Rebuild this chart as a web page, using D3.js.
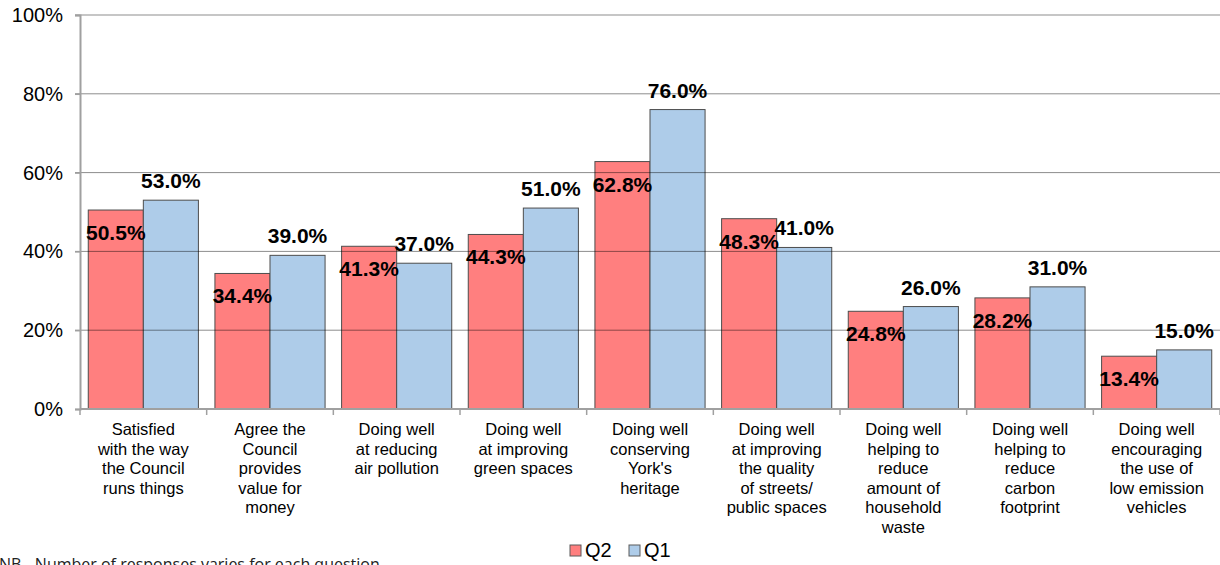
<!DOCTYPE html>
<html><head><meta charset="utf-8">
<script src="https://cdn.jsdelivr.net/npm/d3@7"></script>
<style>body{margin:0;background:#fff}svg{display:block}</style>
</head><body>
<svg id="c" width="1220" height="565"></svg>
<script>
const categories = [
  ["Satisfied","with the way","the Council","runs things"],
  ["Agree the","Council","provides","value for","money"],
  ["Doing well","at reducing","air pollution"],
  ["Doing well","at improving","green spaces"],
  ["Doing well","conserving","York's","heritage"],
  ["Doing well","at improving","the quality","of streets/","public spaces"],
  ["Doing well","helping to","reduce","amount of","household","waste"],
  ["Doing well","helping to","reduce","carbon","footprint"],
  ["Doing well","encouraging","the use of","low emission","vehicles"]
];
const q2 = [50.5, 34.4, 41.3, 44.3, 62.8, 48.3, 24.8, 28.2, 13.4];
const q1 = [53.0, 39.0, 37.0, 51.0, 76.0, 41.0, 26.0, 31.0, 15.0];
const yTicks = [0, 20, 40, 60, 80, 100];
const seriesNames = ["Q2", "Q1"];
const colors = ["#FF7F7F", "#AECCE9"];

(function(){
const svg = d3.select("#c");
const mLeft = 80, mRight = 1220, mTop = 15, mBottom = 409;
const x = d3.scaleBand().domain(d3.range(categories.length)).range([mLeft, mRight]).paddingInner(0).paddingOuter(0);
const inner = d3.scaleBand().domain([0,1]).range([0, x.bandwidth()]).paddingOuter(0.15).paddingInner(0);
const y = d3.scaleLinear().domain([0, 100]).range([mBottom, mTop]);
const font = "'Liberation Sans', Arial, sans-serif";

// bars
const series = [q2, q1];
series.forEach((vals, si) => {
  svg.append("g").selectAll("rect").data(vals).join("rect")
    .attr("x", (d,i)=>x(i)+inner(si)).attr("width", inner.bandwidth())
    .attr("y", d=>y(d)).attr("height", d=>mBottom - y(d))
    .attr("fill", colors[si])
    .attr("stroke", "#4d4d4d").attr("stroke-width", 1);
});

// gridlines (drawn over the bars, semi-transparent)
svg.append("g").selectAll("line").data(yTicks.filter(d=>d>0)).join("line")
  .attr("x1", mLeft - 5).attr("x2", mRight).attr("y1", d=>y(d)).attr("y2", d=>y(d))
  .attr("stroke", "#000").attr("stroke-opacity", 0.45).attr("stroke-width", 1);

// y axis
const yAxis = d3.axisLeft(y).tickValues(yTicks).tickFormat(d=>d+"%").tickSize(5).tickPadding(12);
const ya = svg.append("g").attr("transform", `translate(${mLeft},0)`).call(yAxis);
ya.select(".domain").attr("stroke", "#a0a0a0").attr("stroke-width", 2);
ya.selectAll(".tick line").attr("stroke", "#a0a0a0").attr("stroke-width", 1.5);
ya.selectAll(".tick text").attr("font-family", font).attr("font-size", 20).attr("fill", "#000");

// x axis
const xa = svg.append("g").attr("transform", `translate(0,${mBottom})`);
xa.append("line").attr("x1", mLeft).attr("x2", mRight).attr("y1", 0).attr("y2", 0).attr("stroke", "#a0a0a0").attr("stroke-width", 2);
xa.selectAll("line.t").data(d3.range(categories.length + 1)).join("line").attr("class","t")
  .attr("x1", i=>mLeft + i*x.bandwidth()).attr("x2", i=>mLeft + i*x.bandwidth())
  .attr("y1", 0).attr("y2", 6).attr("stroke", "#a0a0a0").attr("stroke-width", 1.5);
categories.forEach((lines, i) => {
  const t = xa.append("text").attr("text-anchor", "middle").attr("font-family", font)
    .attr("font-size", 16.5).attr("fill", "#000");
  lines.forEach((ln, k) => {
    t.append("tspan").attr("x", x(i) + x.bandwidth()/2).attr("y", 26 + k*19.5).text(ln);
  });
});

// value labels
const lab = svg.append("g").attr("font-family", font).attr("font-weight", "bold").attr("font-size", 21).attr("text-anchor", "middle").attr("fill", "#000");
lab.selectAll("text.q2").data(q2).join("text").attr("class","q2")
  .attr("x", (d,i)=>x(i)+inner(0)+inner.bandwidth()/2).attr("y", d=>y(d)+30).text(d=>d.toFixed(1)+"%");
lab.selectAll("text.q1").data(q1).join("text").attr("class","q1")
  .attr("x", (d,i)=>x(i)+inner(1)+inner.bandwidth()/2).attr("y", d=>y(d)-12).text(d=>d.toFixed(1)+"%");

// legend
const leg = svg.append("g");
const legX = [570, 629];
seriesNames.forEach((n, i) => {
  leg.append("rect").attr("x", legX[i]).attr("y", 545).attr("width", 11).attr("height", 11)
    .attr("fill", colors[i]).attr("stroke", "#5a5a5a").attr("stroke-width", 1);
  leg.append("text").attr("x", legX[i] + 15).attr("y", 557).attr("font-family", font).attr("font-size", 20).text(n);
});

// footnote
svg.append("text").attr("x", -1).attr("y", 570).attr("font-family", "'Open Sans', sans-serif").attr("font-size", 16).attr("fill", "#222")
  .text("NB - Number of responses varies for each question");
})();
</script>
</body></html>
